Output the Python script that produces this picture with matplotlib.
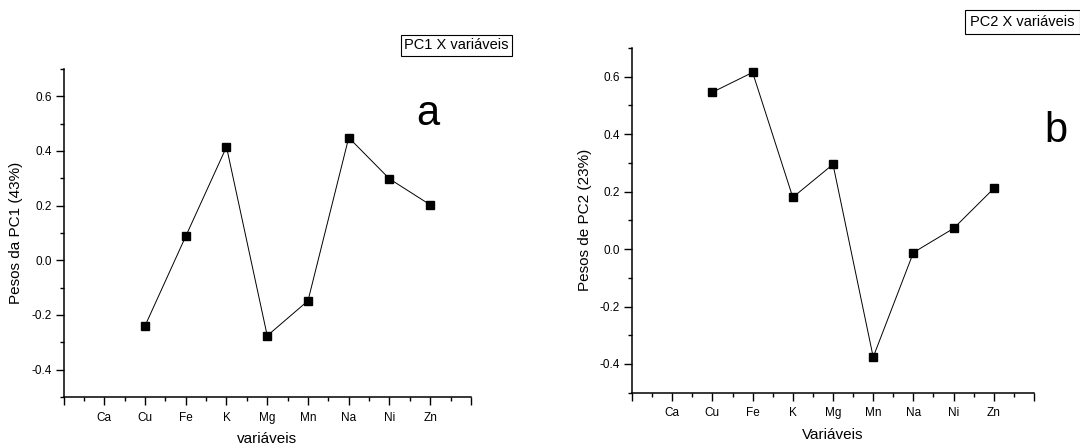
import matplotlib
matplotlib.use("Agg")
import matplotlib.pyplot as plt
from matplotlib.ticker import MultipleLocator, FormatStrFormatter

plt.rcParams["font.family"] = ["Liberation Sans", "DejaVu Sans"]
plt.rcParams["axes.unicode_minus"] = False

# ── data ────────────────────────────────────────────────────────────────────
variables = ["Ca", "Cu", "Fe", "K", "Mg", "Mn", "Na", "Ni", "Zn"]
pc1_vars = ["Cu", "Fe", "K", "Mg", "Mn", "Na", "Ni", "Zn"]
pc1_loadings = [-0.24, 0.088, 0.415, -0.276, -0.148, 0.449, 0.298, 0.203]
pc2_vars = ["Cu", "Fe", "K", "Mg", "Mn", "Na", "Ni", "Zn"]
pc2_loadings = [0.546, 0.615, 0.180, 0.295, -0.376, -0.012, 0.072, 0.211]

fig = plt.figure(figsize=(10.8, 4.44), dpi=100)
ax1 = fig.add_axes([0.0588, 0.1059, 0.3773, 0.7387])
ax2 = fig.add_axes([0.5852, 0.1155, 0.3722, 0.7764])


def style_axis(ax, ylabel, xlabel):
    ax.set_xlim(0, len(variables) + 1)
    ax.set_ylim(-0.5, 0.7)
    ax.set_xticks(range(0, len(variables) + 2))
    ax.set_xticklabels([""] + variables + [""])
    ax.xaxis.set_minor_locator(MultipleLocator(0.5))
    ax.yaxis.set_minor_locator(MultipleLocator(0.1))
    ax.yaxis.set_major_formatter(FormatStrFormatter("%.1f"))
    ax.set_yticks([-0.4, -0.2, 0.0, 0.2, 0.4, 0.6])
    for side in ("top", "right"):
        ax.spines[side].set_visible(False)
    for side in ("left", "bottom"):
        ax.spines[side].set_linewidth(1.1)
    ax.tick_params(which="major", direction="out", length=5.5, width=1.0,
                   labelsize=8.5, pad=3)
    ax.tick_params(which="minor", direction="out", length=3, width=1.0)
    ax.tick_params(axis="x", which="major", pad=5)
    ax.set_ylabel(ylabel, fontsize=11, labelpad=6)
    ax.set_xlabel(xlabel, fontsize=11, labelpad=6)


def xpos(names):
    return [variables.index(n) + 1 for n in names]


# ── panel a ─────────────────────────────────────────────────────────────────
ax1.plot(xpos(pc1_vars), pc1_loadings, color="black", lw=0.7,
         marker="s", ms=5.5, mfc="black", mec="black", clip_on=False)
style_axis(ax1, "Pesos da PC1 (43%)", "variáveis")
ax1.text(8.95, 0.535, "a", fontsize=30, ha="center", va="center")
fig.text(0.471, 0.898, "PC1 X variáveis", fontsize=10.5, ha="right", va="center",
         bbox=dict(boxstyle="square,pad=0.25", fc="white", ec="black", lw=0.8))

# ── panel b ─────────────────────────────────────────────────────────────────
ax2.plot(xpos(pc2_vars), pc2_loadings, color="black", lw=0.7,
         marker="s", ms=5.5, mfc="black", mec="black", clip_on=False)
style_axis(ax2, "Pesos de PC2 (23%)", "Variáveis")
ax2.text(10.55, 0.41, "b", fontsize=30, ha="center", va="center", clip_on=False)
fig.text(0.995, 0.95, "PC2 X variáveis", fontsize=10.5, ha="right", va="center",
         bbox=dict(boxstyle="square,pad=0.35", fc="white", ec="black", lw=0.8))

fig.savefig("out.png", dpi=100)
